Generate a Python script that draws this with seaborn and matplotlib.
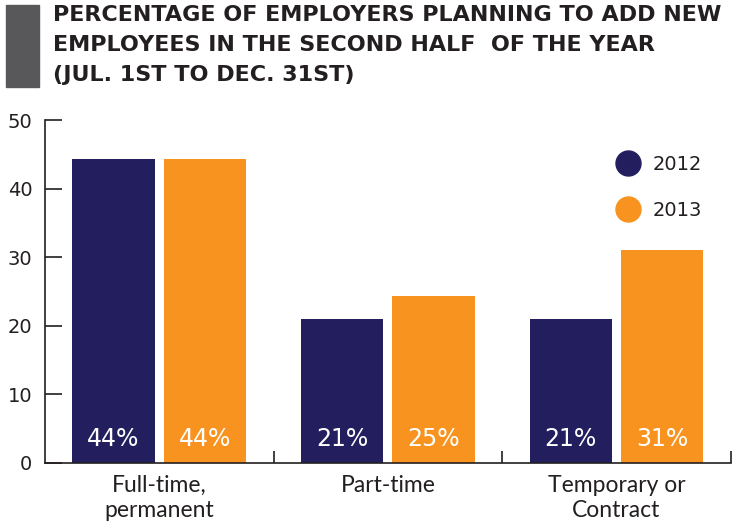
import pandas as pd
import numpy as np
import matplotlib
matplotlib.use("Agg")
import matplotlib.pyplot as plt
from matplotlib.lines import Line2D
from matplotlib.patches import Rectangle
import seaborn as sns

# data
categories = ["Full-time,\npermanent", "Part-time", "Temporary or\nContract"]
years = ["2012", "2013"]
share_2012 = [44.4, 21.0, 21.0]
share_2013 = [44.4, 24.3, 31.0]
labels_2012 = ["44%", "21%", "21%"]
labels_2013 = ["44%", "25%", "31%"]

navy = "#231f5e"
orange = "#f7931e"
ink = "#231f20"

df = pd.DataFrame({
    "category": categories * 2,
    "year": [years[0]] * 3 + [years[1]] * 3,
    "share": share_2012 + share_2013,
})

sns.set_theme(style="white")
plt.rcParams["font.family"] = ["Lato", "DejaVu Sans"]

fig = plt.figure(figsize=(7.36, 5.32), dpi=100)
ax = fig.add_axes([0.061, 0.130, 0.932, 0.644])

sns.barplot(data=df, x="category", y="share", hue="year", order=categories,
            hue_order=years, palette=[navy, orange], width=0.8, gap=0.1,
            saturation=1, linewidth=0, ax=ax, legend=False)

# white value labels sitting near the bottom of each bar
for cont, labs in zip(ax.containers, [labels_2012, labels_2013]):
    for bar, lab in zip(cont, labs):
        ax.text(bar.get_x() + bar.get_width() / 2, 2.4, lab, ha="center",
                va="baseline", color="white", fontsize=17,
                family=["DejaVu Sans"])

ax.set_xlim(-0.5, 2.5)
ax.set_ylim(0, 50)
ax.set_yticks(range(0, 51, 10))
ax.set_xlabel("")
ax.set_ylabel("")
for s in ["top", "right"]:
    ax.spines[s].set_visible(False)
for s in ["left", "bottom"]:
    ax.spines[s].set_color(ink)
    ax.spines[s].set_linewidth(1.2)

ax.tick_params(axis="y", direction="in", length=12, width=1.2, color=ink,
               labelsize=14, labelcolor=ink, pad=9, left=True)
for t in ax.get_yticklabels():
    t.set_family(["DejaVu Sans"])
ax.set_xticks([0, 1, 2])
ax.set_xticklabels(categories)
ax.tick_params(axis="x", length=0, labelsize=16.5, labelcolor=ink, pad=9)
ax.set_xticks([0.5, 1.5, 2.5], minor=True)
ax.tick_params(axis="x", which="minor", direction="in", length=9, width=1.2,
               color=ink, bottom=True)

handles = [Line2D([], [], marker="o", linestyle="", markersize=18,
                  markerfacecolor=c, markeredgecolor=c) for c in [navy, orange]]
leg = ax.legend(handles, years, loc="upper right", bbox_to_anchor=(0.969, 0.921),
                frameon=False, labelspacing=1.36, handletextpad=0.25,
                borderaxespad=0, prop={"family": "DejaVu Sans", "size": 14})
for t in leg.get_texts():
    t.set_color(ink)

# title block with the grey side bar
fig.patches.append(Rectangle((0.0082, 0.8365), 0.0448, 0.154, transform=fig.transFigure,
                             color="#58585a", zorder=0))
title = fig.text(53 / 736, 1 - 5 / 532,
                 "PERCENTAGE OF EMPLOYERS PLANNING TO ADD NEW\n"
                 "EMPLOYEES IN THE SECOND HALF  OF THE YEAR\n(JUL. 1ST TO DEC. 31ST)",
                 ha="left", va="top", fontsize=16, fontweight="bold", color=ink,
                 family=["DejaVu Sans"], linespacing=1.64)
# shrink the title so its widest line spans the same width as the original
fig.canvas.draw()
w = title.get_window_extent().width
title.set_fontsize(16 * 669 / w)

fig.savefig("out.png", dpi=100)
